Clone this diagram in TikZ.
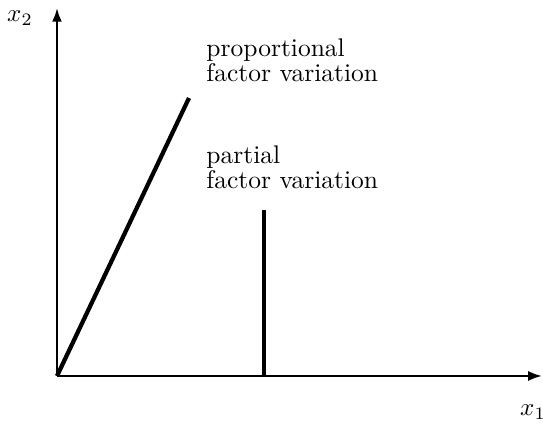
\documentclass[tikz,border=0pt]{standalone}
\usetikzlibrary{arrows.meta}
\begin{document}
\begin{tikzpicture}[x=0.4pt,y=-0.4pt,
  axis/.style={line width=0.9pt,-{Latex[length=5.5pt,width=4pt]}},
  curve/.style={line width=1.7pt},
  lbl/.style={inner sep=0pt,align=left,anchor=north west,font=\fontsize{10.2}{10}\selectfont}]
\useasboundingbox (0,0) rectangle (543,424);
\coordinate (O) at (57,376);
\coordinate (Y) at (57,8);
\coordinate (X) at (542,376);
\coordinate (P) at (189,98);
\coordinate (Q0) at (264,376);
\coordinate (Q) at (264,210);
\draw[axis] (O) -- (Y);
\draw[axis] (O) -- (X);
\draw[curve] (O) -- (P);
\draw[curve] (Q0) -- (Q);
\node (lx2) at (20,18) {$x_2$};
\node (lx1) at (533,412) {$x_1$};
\node[lbl] (prop) at (206,38) {proportional\\factor variation};
\node[lbl] (part) at (206,145) {partial\\factor variation};
\end{tikzpicture}
\end{document}
